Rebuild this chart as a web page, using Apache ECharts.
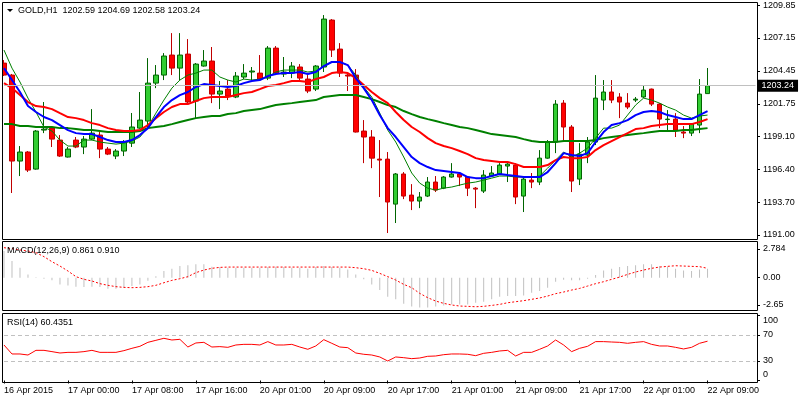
<!DOCTYPE html>
<html>
<head>
<meta charset="utf-8">
<script src="https://cdn.jsdelivr.net/npm/echarts@6/dist/echarts.min.js"></script>
<style>
  html, body { margin: 0; padding: 0; background: #fff; }
  #chart { width: 800px; height: 400px; }
</style>
</head>
<body>
<div id="chart"></div>
<script>
// x axis tick labels, one every 8 hourly bars
const timeLabels = ['16 Apr 2015', '17 Apr 00:00', '17 Apr 08:00', '17 Apr 16:00', '20 Apr 01:00', '20 Apr 09:00',
    '20 Apr 17:00', '21 Apr 01:00', '21 Apr 09:00', '21 Apr 17:00', '22 Apr 01:00', '22 Apr 09:00'];

// GOLD H1 candles: [open, high, low, close]
const candles = [
    [1205.09, 1205.34, 1204.03, 1204.11], [1204.11, 1204.20, 1194.44, 1197.06], [1197.06, 1198.29, 1195.83, 1197.80],
    [1197.80, 1197.88, 1196.16, 1196.32], [1196.40, 1199.60, 1196.35, 1199.52], [1199.60, 1201.90, 1199.35, 1199.68],
    [1199.76, 1199.85, 1198.21, 1198.86], [1198.78, 1199.19, 1197.40, 1197.47], [1197.39, 1198.21, 1197.35, 1198.04],
    [1198.78, 1199.03, 1198.12, 1198.21], [1198.21, 1199.11, 1197.63, 1198.86], [1198.86, 1201.32, 1198.78, 1199.35],
    [1199.19, 1199.44, 1197.30, 1198.04], [1198.04, 1198.21, 1197.55, 1197.63], [1197.47, 1198.04, 1197.22, 1197.88],
    [1197.88, 1198.78, 1197.47, 1198.62], [1198.53, 1201.00, 1198.21, 1199.85], [1199.76, 1202.72, 1199.70, 1200.42],
    [1200.34, 1205.50, 1199.85, 1203.45], [1203.45, 1204.93, 1203.04, 1204.11], [1204.11, 1205.91, 1203.70, 1205.67],
    [1205.75, 1207.55, 1204.11, 1204.68], [1204.68, 1207.55, 1203.70, 1205.75], [1205.83, 1207.06, 1201.81, 1201.90],
    [1201.98, 1205.10, 1200.58, 1205.01], [1204.85, 1206.16, 1204.80, 1205.26], [1205.26, 1206.41, 1201.81, 1202.55],
    [1202.55, 1203.62, 1201.32, 1202.80], [1202.96, 1203.70, 1202.06, 1202.39], [1202.31, 1204.36, 1202.22, 1204.03],
    [1203.95, 1205.01, 1203.78, 1204.27], [1204.36, 1204.77, 1203.70, 1204.44], [1204.27, 1205.75, 1203.70, 1203.78],
    [1203.86, 1206.49, 1203.70, 1206.32], [1206.32, 1206.49, 1204.11, 1204.27], [1204.19, 1205.59, 1203.95, 1204.36],
    [1204.27, 1205.18, 1203.86, 1204.85], [1204.77, 1205.01, 1203.54, 1203.86], [1203.78, 1204.11, 1202.63, 1202.80],
    [1202.96, 1204.93, 1202.80, 1204.85], [1204.77, 1209.03, 1204.36, 1208.70], [1208.62, 1208.70, 1205.59, 1206.16],
    [1206.24, 1206.73, 1203.95, 1204.27], [1204.11, 1204.19, 1202.80, 1204.03], [1204.11, 1204.60, 1199.40, 1199.44],
    [1199.52, 1200.42, 1196.89, 1199.03], [1199.03, 1199.60, 1196.48, 1197.30], [1197.22, 1198.78, 1194.11, 1197.14],
    [1197.22, 1197.80, 1191.16, 1193.70], [1193.53, 1196.08, 1191.98, 1196.00], [1196.00, 1196.16, 1193.94, 1194.19],
    [1194.27, 1195.17, 1193.04, 1193.78], [1193.78, 1194.52, 1193.20, 1194.11], [1194.19, 1195.75, 1194.11, 1195.34],
    [1195.34, 1195.83, 1194.52, 1194.68], [1194.84, 1195.83, 1194.76, 1195.75], [1195.75, 1196.89, 1195.70, 1196.00],
    [1196.00, 1196.16, 1195.01, 1195.75], [1195.75, 1195.83, 1194.19, 1194.84], [1194.84, 1194.93, 1193.20, 1194.76],
    [1194.60, 1196.32, 1194.44, 1195.91], [1195.83, 1196.65, 1195.75, 1196.08], [1196.00, 1196.89, 1195.95, 1196.73],
    [1196.65, 1196.89, 1195.34, 1196.81], [1196.73, 1196.89, 1193.53, 1194.11], [1194.19, 1195.75, 1192.88, 1195.58],
    [1195.50, 1196.08, 1194.84, 1195.34], [1195.34, 1197.96, 1195.09, 1197.30], [1197.30, 1198.78, 1197.25, 1198.62],
    [1198.62, 1202.06, 1197.71, 1201.73], [1201.81, 1202.06, 1198.62, 1199.85], [1199.85, 1200.01, 1194.52, 1195.42],
    [1195.58, 1198.53, 1195.09, 1197.63], [1197.55, 1199.03, 1196.89, 1198.62], [1198.62, 1204.11, 1198.37, 1202.22],
    [1202.06, 1203.70, 1201.24, 1202.72], [1202.72, 1203.70, 1201.81, 1202.06], [1202.31, 1202.63, 1200.58, 1201.90],
    [1201.81, 1202.63, 1201.32, 1201.49], [1202.06, 1202.31, 1201.90, 1202.14], [1202.31, 1203.21, 1202.22, 1202.88],
    [1202.96, 1203.00, 1201.57, 1201.73], [1201.73, 1201.81, 1199.76, 1200.50], [1200.46, 1201.24, 1199.60, 1200.50],
    [1200.50, 1200.99, 1199.03, 1199.60], [1199.44, 1199.93, 1198.94, 1199.35], [1199.35, 1200.17, 1199.11, 1200.09],
    [1200.01, 1203.78, 1199.35, 1202.55], [1202.59, 1204.69, 1202.58, 1203.24]
];

// moving averages drawn on the price chart
const maFast = [
    1206.16, 1204.68, 1203.54, 1202.22, 1201.08, 1199.85, 1199.52, 1198.78, 1198.29, 1198.29,
    1198.78, 1198.78, 1198.62, 1198.53, 1198.45, 1198.53, 1198.70, 1199.03, 1199.85, 1200.99,
    1202.06, 1203.04, 1203.70, 1204.11, 1204.27, 1204.52, 1204.52, 1203.95, 1203.70, 1203.54,
    1203.78, 1203.70, 1203.78, 1203.95, 1204.36, 1204.52, 1204.52, 1204.52, 1204.36, 1204.44,
    1204.77, 1205.18, 1205.18, 1204.93, 1204.11, 1203.13, 1202.31, 1200.99, 1199.60, 1198.62,
    1197.39, 1196.08, 1195.25, 1194.84, 1194.68, 1194.84, 1194.93, 1195.09, 1195.25, 1195.34,
    1195.50, 1195.66, 1195.83, 1195.83, 1195.75, 1195.75, 1195.75, 1195.83, 1196.48, 1197.14,
    1197.80, 1197.39, 1197.71, 1198.12, 1198.94, 1199.76, 1199.76, 1200.01, 1200.83, 1201.65,
    1202.22, 1202.06, 1201.81, 1201.49, 1201.24, 1200.83, 1200.58, 1200.75, 1200.83
];
const maBlue = [
    1204.68, 1203.70, 1202.72, 1201.57, 1201.08, 1200.67, 1200.42, 1200.01, 1199.60, 1199.35,
    1199.27, 1199.27, 1199.03, 1198.78, 1198.62, 1198.62, 1198.78, 1199.19, 1199.76, 1200.67,
    1201.49, 1202.06, 1202.47, 1202.72, 1203.13, 1203.37, 1203.29, 1203.21, 1203.13, 1203.21,
    1203.45, 1203.62, 1203.70, 1204.03, 1204.19, 1204.27, 1204.27, 1204.36, 1204.19, 1204.36,
    1204.85, 1205.18, 1205.18, 1204.93, 1203.86, 1203.04, 1202.06, 1200.83, 1199.76, 1199.03,
    1198.21, 1197.39, 1196.89, 1196.57, 1196.32, 1196.24, 1196.16, 1196.08, 1195.75, 1195.66,
    1195.66, 1195.83, 1196.00, 1195.91, 1195.83, 1195.75, 1195.75, 1195.75, 1196.16, 1196.89,
    1197.71, 1197.55, 1197.47, 1197.71, 1198.62, 1199.44, 1200.01, 1200.17, 1200.42, 1200.83,
    1201.08, 1201.16, 1201.08, 1200.83, 1200.67, 1200.50, 1200.50, 1200.83, 1201.16
];
const maRed = [
    1203.45, 1203.04, 1202.47, 1201.90, 1201.57, 1201.49, 1201.32, 1200.99, 1200.67, 1200.58,
    1200.42, 1200.17, 1200.01, 1199.76, 1199.60, 1199.52, 1199.52, 1199.60, 1200.01, 1200.58,
    1201.08, 1201.49, 1201.73, 1201.73, 1201.98, 1202.22, 1202.31, 1202.31, 1202.31, 1202.47,
    1202.63, 1202.72, 1202.96, 1203.21, 1203.29, 1203.45, 1203.62, 1203.62, 1203.54, 1203.78,
    1203.95, 1204.27, 1204.36, 1204.27, 1203.86, 1203.29, 1202.72, 1202.22, 1201.81, 1201.08,
    1200.42, 1199.85, 1199.44, 1198.94, 1198.53, 1198.29, 1198.12, 1197.88, 1197.63, 1197.30,
    1197.14, 1197.06, 1196.98, 1196.98, 1196.81, 1196.57, 1196.57, 1196.57, 1196.73, 1197.14,
    1197.39, 1197.30, 1197.30, 1197.39, 1197.96, 1198.37, 1198.70, 1199.03, 1199.35, 1199.68,
    1199.76, 1199.93, 1200.01, 1200.09, 1200.09, 1200.09, 1200.09, 1200.26, 1200.50
];
const maSlow = [
    1200.09, 1200.09, 1199.93, 1199.93, 1199.85, 1199.85, 1199.85, 1199.76, 1199.76, 1199.68,
    1199.60, 1199.60, 1199.52, 1199.44, 1199.44, 1199.44, 1199.44, 1199.52, 1199.76, 1199.85,
    1199.93, 1200.09, 1200.26, 1200.42, 1200.58, 1200.67, 1200.75, 1200.75, 1200.91, 1200.99,
    1201.16, 1201.24, 1201.32, 1201.49, 1201.65, 1201.73, 1201.81, 1201.90, 1201.98, 1202.06,
    1202.31, 1202.39, 1202.47, 1202.47, 1202.47, 1202.31, 1202.14, 1201.90, 1201.65, 1201.49,
    1201.16, 1200.91, 1200.67, 1200.50, 1200.34, 1200.17, 1200.01, 1199.85, 1199.76, 1199.60,
    1199.44, 1199.27, 1199.19, 1199.11, 1199.03, 1198.86, 1198.70, 1198.62, 1198.62, 1198.62,
    1198.70, 1198.70, 1198.70, 1198.70, 1198.78, 1198.94, 1199.03, 1199.11, 1199.19, 1199.27,
    1199.35, 1199.44, 1199.52, 1199.52, 1199.52, 1199.60, 1199.60, 1199.68, 1199.76
];

// MACD(12,26,9): histogram (main) and signal
const macdMain = [
    2.59, 1.62, 0.97, 0.32, 0.05, -0.10, -0.25, -0.65, -0.75, -0.87,
    -0.90, -0.87, -0.90, -1.07, -1.07, -0.97, -0.80, -0.65, -0.30, 0.15,
    0.65, 0.87, 1.13, 1.20, 1.30, 1.30, 1.07, 1.03, 0.97, 0.97,
    0.97, 0.97, 0.97, 1.03, 1.07, 1.03, 0.97, 0.97, 0.87, 1.03,
    1.13, 1.03, 0.97, 0.80, 0.32, -0.15, -0.65, -1.20, -1.85, -2.10,
    -2.52, -2.80, -2.90, -2.90, -2.80, -2.70, -2.60, -2.60, -2.60, -2.43,
    -2.33, -2.10, -1.85, -1.78, -1.78, -1.72, -1.46, -1.30, -0.97, -0.40,
    -0.20, -0.25, -0.25, -0.10, 0.25, 0.70, 0.87, 1.03, 1.13, 1.20,
    1.30, 1.30, 1.13, 1.07, 0.87, 0.70, 0.65, 0.80, 0.861
];
const macdSignal = [
    2.91, 2.82, 2.69, 2.59, 2.43, 2.04, 1.55, 1.13, 0.65, 0.10,
    -0.16, -0.32, -0.58, -0.74, -0.87, -0.94, -0.97, -0.94, -0.87, -0.74,
    -0.49, -0.26, -0.10, 0.10, 0.49, 0.74, 0.91, 1.00, 1.03, 1.03,
    1.03, 1.03, 1.03, 1.03, 1.03, 1.03, 1.03, 1.03, 1.03, 1.03,
    1.03, 1.03, 1.03, 1.03, 0.97, 0.87, 0.71, 0.42, 0.10, -0.23,
    -0.65, -0.97, -1.52, -1.94, -2.27, -2.49, -2.65, -2.75, -2.78, -2.82,
    -2.78, -2.69, -2.59, -2.43, -2.33, -2.23, -2.10, -1.97, -1.78, -1.55,
    -1.39, -1.20, -1.04, -0.81, -0.58, -0.39, -0.16, 0.06, 0.32, 0.55,
    0.74, 0.91, 1.03, 1.10, 1.16, 1.13, 1.10, 1.07, 0.910
];

// RSI(14)
const rsi = [
    54.6, 40.8, 40.8, 39.2, 46.4, 46.4, 44.4, 42.3, 43.3, 43.3,
    44.4, 46.4, 43.3, 43.3, 43.3, 45.9, 49.5, 52.6, 58.7, 61.8,
    64.9, 62.3, 63.3, 51.5, 57.7, 58.7, 51.5, 52.1, 51.0, 54.6,
    55.6, 55.6, 54.6, 59.8, 54.6, 54.6, 55.6, 51.5, 48.0, 53.1,
    62.8, 57.2, 51.5, 50.5, 42.3, 40.3, 39.2, 36.2, 30.0, 36.2,
    35.1, 33.6, 34.6, 37.2, 37.7, 39.7, 40.8, 40.8, 40.3, 38.2,
    41.8, 43.3, 45.4, 46.4, 37.7, 43.3, 43.3, 48.0, 53.1, 62.3,
    54.6, 44.4, 49.5, 52.6, 59.8, 59.8, 59.2, 58.7, 57.2, 58.7,
    59.8, 55.6, 53.1, 53.1, 51.0, 48.5, 51.0, 57.2, 60.4351
];

// axis labels on the right
const priceTicks = [1209.85, 1207.15, 1204.45, 1201.75, 1199.10, 1196.40, 1193.70, 1191.00];
const macdTicks = [2.784, 0, -2.65];
const rsiTicks = [100, 70, 30, 0];
const rsiLevels = [70, 30];

const FONT = 'Liberation Sans';
const SLOTS = 95; // hourly slots incl. the empty space on the right
const cats = [];
for (let i = 0; i < SLOTS; i++) cats.push(String(i));

const last = candles[candles.length - 1];
const lastClose = last[3];

const txt = { fontFamily: FONT, fontSize: 9, color: '#000', fontWeight: 'normal' };

const xAxes = [0, 1, 2].map(function (g) {
    return {
        type: 'category',
        gridIndex: g,
        data: cats,
        boundaryGap: true,
        axisLine: { show: false },
        axisTick: { show: g === 2, alignWithLabel: true, interval: 7, length: 3, lineStyle: { color: '#000' } },
        axisLabel: {
            show: g === 2,
            interval: 7,
            align: 'left',
            margin: 4,
            fontFamily: FONT,
            fontSize: 9,
            color: '#000',
            formatter: function (v, i) { return timeLabels[i / 8] || ''; }
        },
        splitLine: { show: false }
    };
});

const yBase = {
    position: 'right',
    offset: -2.5,
    scale: true,
    axisLine: { show: false },
    splitLine: { show: false }
};

let option = {
    animation: false,
    backgroundColor: '#fff',
    textStyle: { fontFamily: FONT },
    title: [
        { text: 'GOLD,H1  ' + last.map(function (v) { return v.toFixed(2); }).join(' '), left: 18, top: 6, padding: 0, textStyle: txt },
        { text: 'MACD(12,26,9) ' + macdMain[macdMain.length - 1].toFixed(3) + ' ' + macdSignal[macdSignal.length - 1].toFixed(3), left: 7, top: 246, padding: 0, textStyle: txt },
        { text: 'RSI(14) ' + rsi[rsi.length - 1].toFixed(4), left: 7, top: 318, padding: 0, textStyle: txt }
    ],
    // half pixel shift keeps 1px wicks and histogram bars crisp
    grid: [
        { left: -0.5, width: 760, top: 2, height: 237 },
        { left: -0.5, width: 760, top: 241, height: 70 },
        { left: -0.5, width: 760, top: 313, height: 69 }
    ],
    xAxis: xAxes,
    yAxis: [
        Object.assign({}, yBase, {
            gridIndex: 0, min: 1190.67, max: 1210.10,
            axisTick: { show: true, customValues: priceTicks, length: 3, lineStyle: { color: '#000' } },
            axisLabel: { customValues: priceTicks, margin: 6, fontFamily: FONT, fontSize: 9, color: '#000',
                formatter: function (v) { return v.toFixed(2); } }
        }),
        Object.assign({}, yBase, {
            gridIndex: 1, min: -3.232, max: 3.56,
            axisTick: { show: true, customValues: macdTicks, length: 3, lineStyle: { color: '#000' } },
            axisLabel: { customValues: macdTicks, margin: 6, fontFamily: FONT, fontSize: 9, color: '#000',
                formatter: function (v) { return v === 0 ? '0.00' : String(v); } }
        }),
        Object.assign({}, yBase, {
            gridIndex: 2, min: -2.3, max: 103.8,
            axisTick: { show: true, customValues: rsiTicks, length: 3, lineStyle: { color: '#000' } },
            axisLabel: { customValues: rsiTicks, margin: 6, fontFamily: FONT, fontSize: 9, color: '#000',
                formatter: function (v) {
                    if (v === 100) return '{top|100}';
                    if (v === 0) return '{bot|0}';
                    return String(v);
                },
                rich: {
                    top: { fontFamily: FONT, fontSize: 9, color: '#000', padding: [11, 0, 0, 0] },
                    bot: { fontFamily: FONT, fontSize: 9, color: '#000', padding: [0, 0, 11, 0] }
                } }
        })
    ],
    series: [
        {
            type: 'candlestick',
            xAxisIndex: 0, yAxisIndex: 0,
            barWidth: 5,
            silent: true,
            data: candles.map(function (c) { return [c[0], c[3], c[2], c[1]]; }),
            itemStyle: {
                color: '#32CD32', borderColor: '#006400',
                color0: '#FF0000', borderColor0: '#C00000',
                borderWidth: 1
            },
            markLine: {
                symbol: 'none', silent: true, animation: false,
                lineStyle: { color: '#c0c0c0', type: 'solid', width: 1 },
                label: {
                    show: true, position: 'end', distance: 2,
                    formatter: function () { return lastClose.toFixed(2); },
                    color: '#fff', backgroundColor: '#000', padding: [2, 4, 1, 4],
                    fontFamily: FONT, fontSize: 9
                },
                data: [[{ coord: [cats[0], lastClose] }, { coord: [cats[SLOTS - 1], lastClose] }]]
            },
            z: 2
        },
        { type: 'line', xAxisIndex: 0, yAxisIndex: 0, data: maFast, symbol: 'none', silent: true,
            lineStyle: { color: '#008000', width: 1 }, z: 3 },
        { type: 'line', xAxisIndex: 0, yAxisIndex: 0, data: maSlow, symbol: 'none', silent: true,
            lineStyle: { color: '#008000', width: 2 }, z: 3 },
        { type: 'line', xAxisIndex: 0, yAxisIndex: 0, data: maRed, symbol: 'none', silent: true,
            lineStyle: { color: '#FF0000', width: 2 }, z: 3 },
        { type: 'line', xAxisIndex: 0, yAxisIndex: 0, data: maBlue, symbol: 'none', silent: true,
            lineStyle: { color: '#0000FF', width: 2 }, z: 3 },
        { type: 'bar', xAxisIndex: 1, yAxisIndex: 1, data: macdMain, barWidth: 1, silent: true,
            itemStyle: { color: '#c0c0c0' } },
        { type: 'line', xAxisIndex: 1, yAxisIndex: 1, data: macdSignal, symbol: 'none', silent: true,
            lineStyle: { color: '#FF0000', width: 1, type: [2, 2] } },
        {
            type: 'line', xAxisIndex: 2, yAxisIndex: 2, data: rsi, symbol: 'none', silent: true,
            lineStyle: { color: '#FF0000', width: 1 },
            markLine: {
                symbol: 'none', silent: true, animation: false,
                lineStyle: { color: '#c0c0c0', type: [4, 3], width: 1 },
                label: { show: false },
                data: rsiLevels.map(function (lv) {
                    return [{ coord: [cats[0], lv] }, { coord: [cats[SLOTS - 1], lv] }];
                })
            }
        }
    ],
    graphic: [
        { type: 'rect', shape: { x: 0, y: 0, width: 2, height: 400 }, style: { fill: '#fff' }, z: 90 },
        { type: 'polygon', shape: { points: [[7, 9], [13, 9], [10, 12]] }, style: { fill: '#000' }, z: 100 },
        { type: 'rect', shape: { x: 2.5, y: 2.5, width: 755, height: 237 }, style: { fill: 'none', stroke: '#000', lineWidth: 1 }, z: 100 },
        { type: 'rect', shape: { x: 2.5, y: 241.5, width: 755, height: 69 }, style: { fill: 'none', stroke: '#000', lineWidth: 1 }, z: 100 },
        { type: 'rect', shape: { x: 2.5, y: 313.5, width: 755, height: 69 }, style: { fill: 'none', stroke: '#000', lineWidth: 1 }, z: 100 }
    ]
};

let mychart = echarts.init(document.getElementById('chart'));
mychart.setOption(option);
window.addEventListener('resize', () => {
    mychart.resize();
});
</script>
</body>
</html>
